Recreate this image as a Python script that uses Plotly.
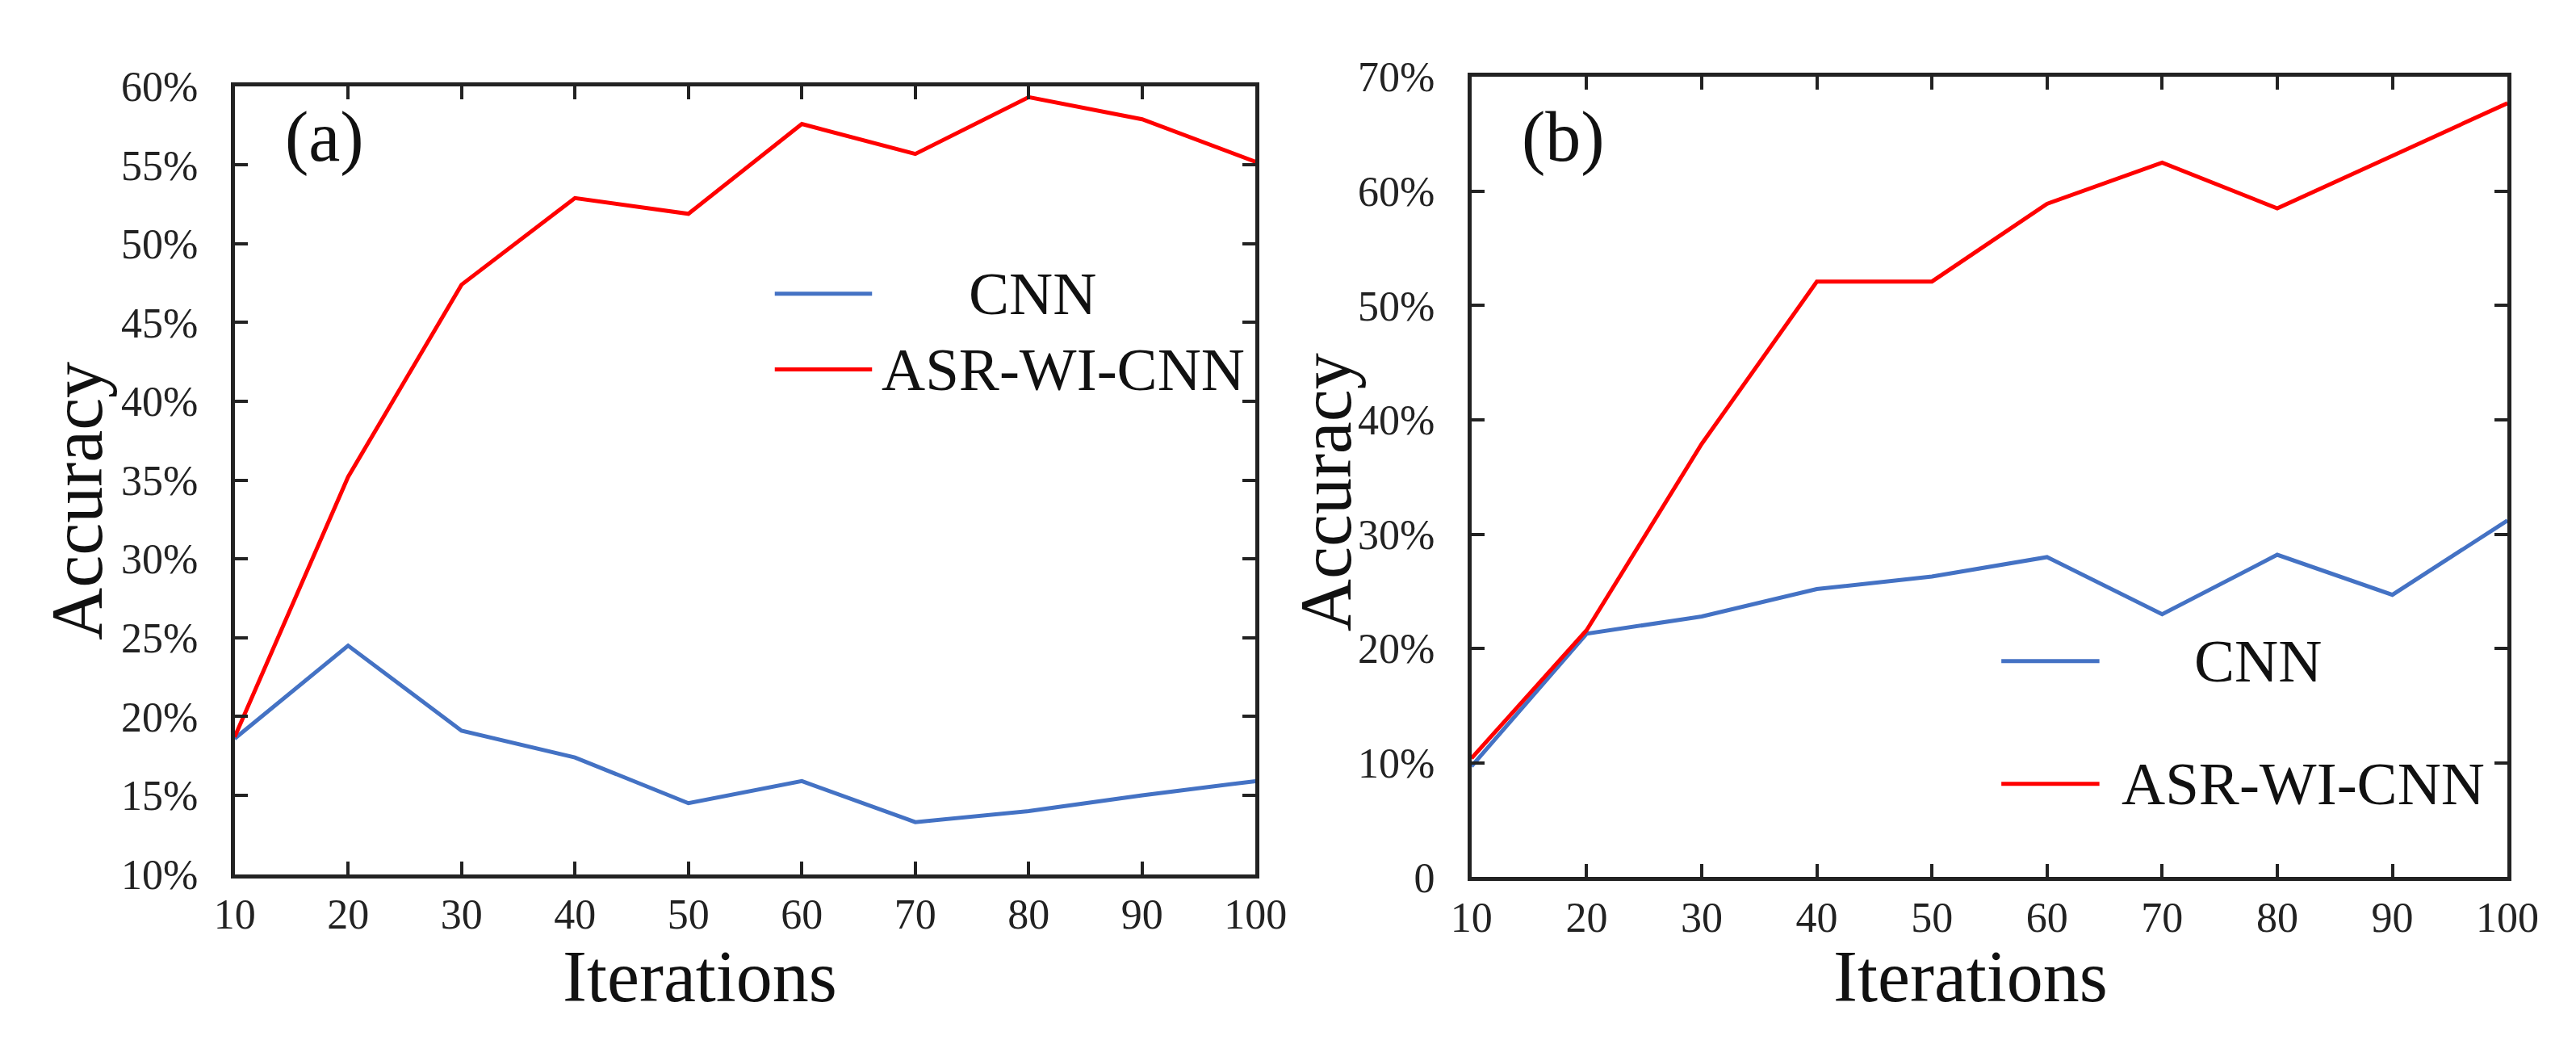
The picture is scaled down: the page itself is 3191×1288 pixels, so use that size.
import plotly.graph_objects as go

W, H = 3191, 1288

# data (accuracy in %)
iterations = [10, 20, 30, 40, 50, 60, 70, 80, 90, 100]
cnn_a = [18.6, 24.5, 19.1, 17.4, 14.5, 15.9, 13.3, 14.0, 15.0, 15.9]
asr_a = [18.7, 35.2, 47.4, 52.9, 51.9, 57.6, 55.7, 59.3, 57.9, 55.2]
cnn_b = [9.7, 21.3, 22.8, 25.2, 26.3, 28.0, 23.0, 28.2, 24.7, 31.2]
asr_b = [10.4, 21.6, 37.9, 52.1, 52.1, 58.9, 62.5, 58.5, 63.1, 67.7]

yticks_a = [10, 15, 20, 25, 30, 35, 40, 45, 50, 55, 60]
ytext_a = [f"{v}%" for v in yticks_a]
yticks_b = [0, 10, 20, 30, 40, 50, 60, 70]
ytext_b = ["0"] + [f"{v}%" for v in yticks_b[1:]]

legend_names = ["CNN", "ASR-WI-CNN"]
BLUE = "#4472C4"
RED = "#FF0000"
FONT = "Liberation Serif"


def px(x):
    return x / W


def py(y):
    return 1 - y / H


fig = go.Figure()
fig.add_trace(go.Scatter(x=iterations, y=cnn_a, mode="lines", line=dict(color=BLUE, width=5),
                         xaxis="x", yaxis="y", showlegend=False))
fig.add_trace(go.Scatter(x=iterations, y=asr_a, mode="lines", line=dict(color=RED, width=5),
                         xaxis="x", yaxis="y", showlegend=False))
fig.add_trace(go.Scatter(x=iterations, y=cnn_b, mode="lines", line=dict(color=BLUE, width=5),
                         xaxis="x2", yaxis="y2", showlegend=False))
fig.add_trace(go.Scatter(x=iterations, y=asr_b, mode="lines", line=dict(color=RED, width=5),
                         xaxis="x2", yaxis="y2", showlegend=False))

axis_style = dict(showline=True, linewidth=5, linecolor="#222", mirror="ticks",
                  ticks="inside", ticklen=16, tickwidth=4, tickcolor="#222",
                  showgrid=False, zeroline=False,
                  tickfont=dict(family=FONT, size=52, color="#222"))

fig.update_layout(
    width=W, height=H, margin=dict(l=0, r=0, t=0, b=0),
    paper_bgcolor="white", plot_bgcolor="white",
    xaxis=dict(domain=[px(262), px(1553)], anchor="y", range=[10, 100], dtick=10,
               ticklabelstandoff=0, **axis_style),
    yaxis=dict(domain=[py(1095), py(74)], anchor="x", range=[10, 60],
               tickvals=yticks_a, ticktext=ytext_a, ticklabelstandoff=30, **axis_style),
    xaxis2=dict(domain=[px(1826), px(3136)], anchor="y2", range=[10, 100], dtick=10,
                ticklabelstandoff=0, **axis_style),
    yaxis2=dict(domain=[py(1099), py(62)], anchor="x2", range=[0, 70],
                tickvals=yticks_b, ticktext=ytext_b, ticklabelstandoff=30, **axis_style),
)

ann = []
shapes = []


def text(x, y, s, size, xanchor="center", angle=0):
    ann.append(dict(x=px(x), y=py(y), xref="paper", yref="paper", text=s, showarrow=False,
                    xanchor=xanchor, yanchor="middle", textangle=angle,
                    font=dict(family=FONT, size=size, color="#111")))


# axis titles
text(63, 611, "Accuracy", 90, angle=-90)
text(850, 1228, "Iterations", 90)
text(1642, 600, "Accuracy", 90, angle=-90)
text(2457, 1228, "Iterations", 90)

# panel labels
text(376, 140, "(a)", 88)
text(1942, 140, "(b)", 88)

# legends drawn by hand (long line samples)
leg = [
    # (line x0, x1, y, text x, text anchor)
    ((945, 1068, 343), (1188, legend_names[0]), BLUE),
    ((945, 1068, 441), (1078, legend_names[1]), RED),
    ((2496, 2620, 819), (2738, legend_names[0]), BLUE),
    ((2496, 2620, 978), (2646, legend_names[1]), RED),
]
for (x0, x1, y), (tx, name), col in leg:
    shapes.append(dict(type="line", xref="paper", yref="paper", x0=px(x0), x1=px(x1),
                       y0=py(y), y1=py(y), line=dict(color=col, width=5)))
    text(tx, y, name, 75, xanchor="left")

fig.update_layout(annotations=ann, shapes=shapes)

fig.write_html("out.html")
